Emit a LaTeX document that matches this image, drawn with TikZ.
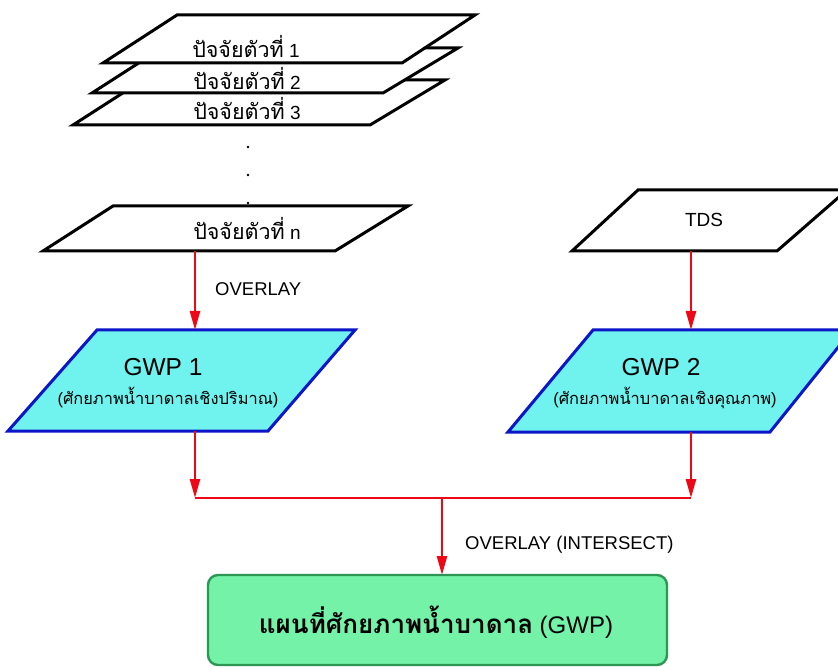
\documentclass[tikz,border=0pt]{standalone}
\usepackage{fontspec}
\setmainfont{Liberation Sans}
\newfontfamily\thai[Script=Thai]{Loma}
\usetikzlibrary{arrows.meta}

\definecolor{gwpfill}{RGB}{112,242,238}
\definecolor{gwpline}{RGB}{12,22,200}
\definecolor{mapfill}{RGB}{115,242,168}
\definecolor{mapline}{RGB}{45,150,85}
\definecolor{flowred}{RGB}{238,8,22}

\begin{document}
\begin{tikzpicture}[x=1pt,y=-1pt,
  layer/.style={draw=black, fill=white, line width=3pt, line join=miter},
  gwp/.style={draw=gwpline, fill=gwpfill, line width=3pt, line join=miter},
  mapbox/.style={draw=mapline, fill=mapfill, line width=2.4pt, rounded corners=10pt},
  flow/.style={draw=flowred, line width=2.6pt},
  flowarrow/.style={flow, -{Triangle[length=19pt,width=10pt]}},
  lbl/.style={font=\fontsize{19}{22}\selectfont, anchor=base, inner sep=0pt},
  thlbl/.style={font=\fontsize{21.5}{22}\selectfont\thai},
  title/.style={font=\fontsize{24.5}{28}\selectfont, anchor=base, inner sep=0pt},
  sub/.style={font=\fontsize{16.4}{19}\selectfont, anchor=base, inner sep=0pt},
  note/.style={font=\fontsize{18.5}{22}\selectfont, anchor=base west, inner sep=0pt},
  dot/.style={circle, fill=black, inner sep=0pt, minimum size=2.6pt}
]
\clip (0,0) rectangle (838,668);
\fill[white] (0,0) rectangle (838,668);

% stacked factor layers (back to front)
\draw[layer] (73,125) -- (370,125) -- (445,80) -- (143,80) -- cycle;
\draw[layer] (92,93) -- (383,93) -- (458,48) -- (162,48) -- cycle;
\draw[layer] (103,63) -- (402,63) -- (475,15) -- (177,15) -- cycle;
\node[lbl] (f1) at (246,58) {{\fontsize{21.5}{22}\thai ปัจจัยตัวที่} 1};
\node[lbl] (f2) at (247,90) {{\fontsize{21.5}{22}\thai ปัจจัยตัวที่} 2};
\node[lbl] (f3) at (247,120) {{\fontsize{21.5}{22}\thai ปัจจัยตัวที่} 3};

% ellipsis
\node[dot] (d1) at (248,147) {};
\node[dot] (d2) at (248,175) {};
\node[dot] (d3) at (248,203) {};

% last factor layer
\draw[layer] (43,251) -- (335,251) -- (408,206) -- (113,206) -- cycle;
\node[lbl] (fn) at (247,240) {{\fontsize{21.5}{22}\thai ปัจจัยตัวที่} n};
\coordinate (fn-s) at (195,251);

% TDS layer
\draw[layer] (572,251) -- (777,251) -- (847,190) -- (638,190) -- cycle;
\node[lbl] (tds) at (704,227) {TDS};
\coordinate (tds-s) at (691,251);

% groundwater potential layers
\draw[gwp] (8,431) -- (268,431) -- (355,330) -- (97,330) -- cycle;
\node[title] (g1) at (163,375) {GWP 1};
\node[sub] (g1s) at (168,404) {({\thai ศักยภาพน้ำบาดาลเชิงปริมาณ})};
\coordinate (g1-n) at (195,330);
\coordinate (g1-s) at (195,431);

\draw[gwp] (508,432) -- (770,432) -- (852,330) -- (593,330) -- cycle;
\node[title] (g2) at (661,375) {GWP 2};
\node[sub] (g2s) at (665,404) {({\thai ศักยภาพน้ำบาดาลเชิงคุณภาพ})};
\coordinate (g2-n) at (691,330);
\coordinate (g2-s) at (691,432);

% result map
\draw[mapbox] (208,575) rectangle (667,665);
\node[font=\fontsize{24}{28}\selectfont, anchor=base, inner sep=0pt] (map) at (436,633)
  {{\fontsize{26}{28}\thai\bfseries แผนที่ศักยภาพน้ำบาดาล} (GWP)};
\coordinate (map-n) at (442,575);

% connectors
\coordinate (jl) at (195,498);
\coordinate (jr) at (691,498);
\coordinate (jm) at (442,498);
\draw[flowarrow] (fn-s) -- (g1-n);
\draw[flowarrow] (tds-s) -- (g2-n);
\draw[flowarrow] (g1-s) -- (jl);
\draw[flowarrow] (g2-s) -- (jr);
\draw[flow] (jl) -- (jr);
\draw[flowarrow] (jm) -- (map-n);

\node[note] (ov1) at (215,296) {OVERLAY};
\node[note] (ov2) at (465,549) {OVERLAY (INTERSECT)};
\end{tikzpicture}
\end{document}
